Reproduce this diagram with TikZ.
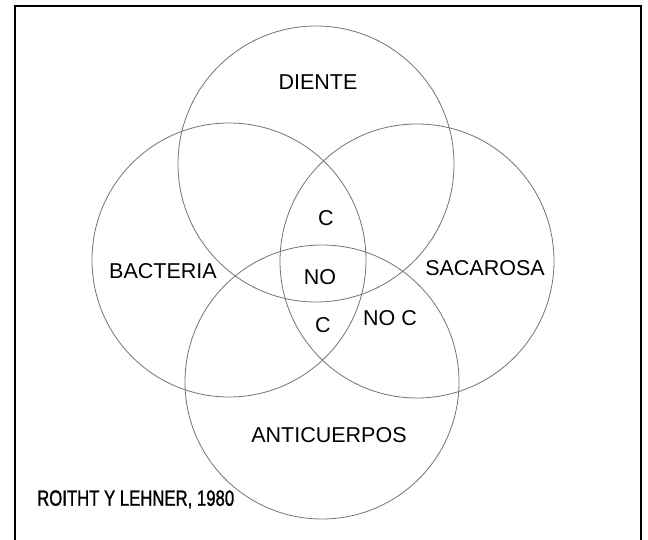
\documentclass[tikz,border=0pt]{standalone}
\usepackage{fontspec}
\setmainfont{Liberation Sans}
\newfontfamily\condfont[FakeStretch=0.76,FakeBold=1.2]{Liberation Sans}
\begin{document}
\begin{tikzpicture}[x=1pt,y=-1pt,
  setc/.style={circle,draw=black!55,line width=0.8pt,minimum size=276pt,inner sep=0pt},
  lbl/.style={inner sep=0pt,font=\fontsize{21.5}{25}\selectfont,text=black},
  src/.style={inner sep=0pt,anchor=west,text depth=0pt,font=\condfont\fontsize{22}{26}\selectfont,text=black}]
\useasboundingbox (0,0) rectangle (648,540);
\draw[line width=2pt] (15,541) -- (15,5.7) -- (641,5.7) -- (641,541);
\node[setc] (diente) at (316,164) {};
\node[setc,minimum size=274pt] (bacteria) at (229,260) {};
\node[setc,minimum size=274pt] (sacarosa) at (417,261) {};
\node[setc,minimum size=274pt] (anticuerpos) at (322,382) {};
\node[lbl] (ldiente) at (318,82) {DIENTE};
\node[lbl] (lbacteria) at (163,271) {BACTERIA};
\node[lbl] (lsacarosa) at (485,268) {SACAROSA};
\node[lbl] (lanti) at (329,435) {ANTICUERPOS};
\node[lbl] (c1) at (326,218) {C};
\node[lbl] (no) at (320,277) {NO};
\node[lbl] (c2) at (323,325) {C};
\node[lbl] (noc) at (390,318) {NO C};
\node[src] (source) at (37,498) {ROITHT Y LEHNER, 1980};
\end{tikzpicture}
\end{document}
